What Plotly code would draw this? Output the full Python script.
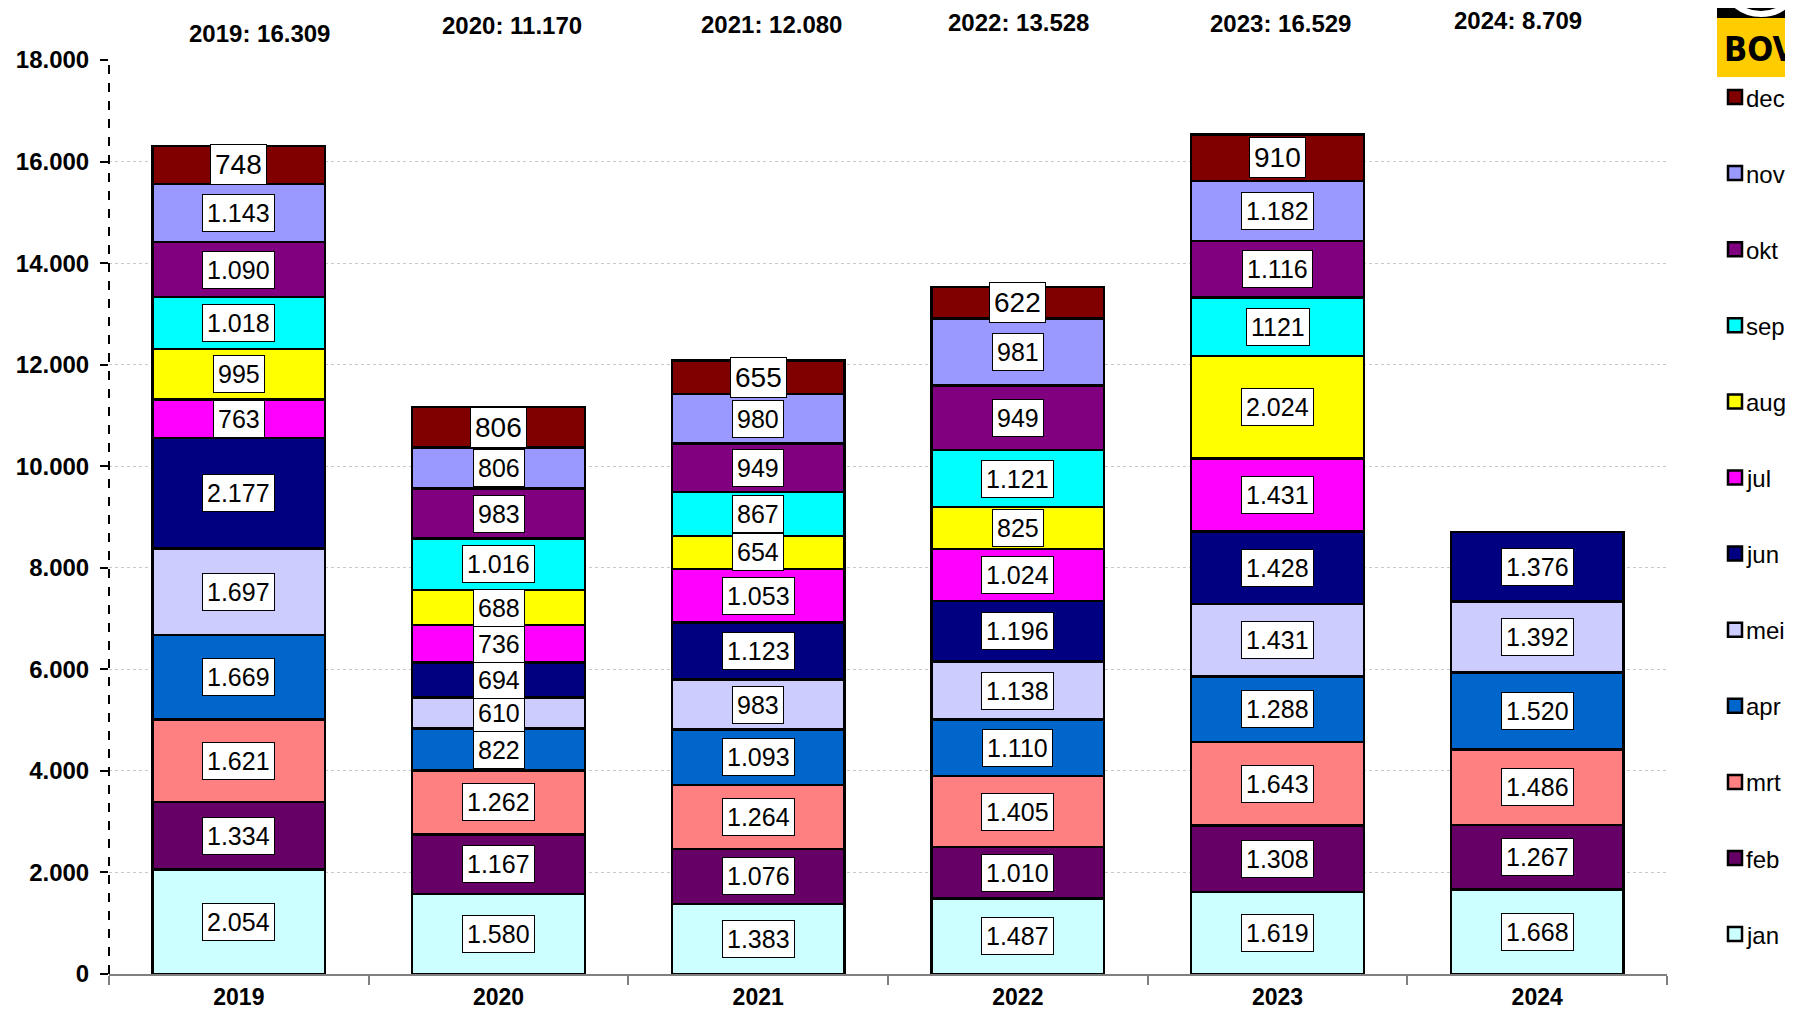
import plotly.graph_objects as go

years = ["2019", "2020", "2021", "2022", "2023", "2024"]
months = ["jan", "feb", "mrt", "apr", "mei", "jun", "jul", "aug", "sep", "okt", "nov", "dec"]

jan = [2054, 1580, 1383, 1487, 1619, 1668]
feb = [1334, 1167, 1076, 1010, 1308, 1267]
mrt = [1621, 1262, 1264, 1405, 1643, 1486]
apr = [1669, 822, 1093, 1110, 1288, 1520]
mei = [1697, 610, 983, 1138, 1431, 1392]
jun = [2177, 694, 1123, 1196, 1428, 1376]
jul = [763, 736, 1053, 1024, 1431, None]
aug = [995, 688, 654, 825, 2024, None]
sep = [1018, 1016, 867, 1121, 1149, None]
okt = [1090, 983, 949, 1272, 1116, None]
nov = [1143, 806, 980, 1318, 1182, None]
dec = [748, 806, 655, 622, 910, None]

# labels as printed in the chart where they differ from the bar heights
printed_labels = {("okt", "2022"): "949", ("nov", "2022"): "981", ("sep", "2023"): "1121"}

series = [jan, feb, mrt, apr, mei, jun, jul, aug, sep, okt, nov, dec]
colors = ["#CCFFFF", "#660066", "#FF8080", "#0066CC", "#CCCCFF", "#000080",
          "#FF00FF", "#FFFF00", "#00FFFF", "#800080", "#9999FF", "#800000"]


def nl(v):
    return f"{v:,}".replace(",", ".")


OFF = 8  # page body margin
W, H = 1777, 997
ML, MR, MT, MB = 101, 118, 52, 31
PW = W - ML - MR
PH = H - MT - MB


def px_x(p):
    return (p - OFF - ML) / PW


def px_y(p):
    return (H - MB - (p - OFF)) / PH


fig = go.Figure()
for name, vals, col in zip(months, series, colors):
    fig.add_trace(go.Bar(
        x=years, y=vals, name=name, showlegend=False,
        marker=dict(color=col, line=dict(color="black", width=2.5)),
    ))

annotations = []
shapes = []
base = [0] * len(years)
for name, vals in zip(months, series):
    for i, (yr, v) in enumerate(zip(years, vals)):
        if v is None:
            continue
        txt = printed_labels.get((name, yr), nl(v))
        annotations.append(dict(
            x=i, y=base[i] + v / 2, xref="x", yref="y", text=txt, showarrow=False,
            font=dict(family="Arial, Liberation Sans", size=28 if name == "dec" else 25, color="black"),
            bgcolor="white", bordercolor="black", borderwidth=1, borderpad=4,
        ))
        base[i] += v

# totals on top
total_pos = [(259, 33), (512, 26), (771, 25), (1018, 23), (1280, 24), (1518, 21)]
for yr, tot, (cx, cy) in zip(years, base, total_pos):
    annotations.append(dict(
        x=px_x(cx), y=px_y(cy), xref="paper", yref="paper", text=f"{yr}: {nl(tot)}",
        showarrow=False, xanchor="center", yanchor="middle",
        font=dict(family="Arial, Liberation Sans", size=24, color="black", weight="bold"),
    ))

# legend (dec on top, jan at bottom)
LEG_TOP, LEG_STEP = 97, 76.1
for idx, (name, col) in enumerate(zip(months[::-1], colors[::-1])):
    cy = LEG_TOP + idx * LEG_STEP
    shapes.append(dict(
        type="rect", xref="paper", yref="paper",
        x0=px_x(1728), x1=px_x(1742), y0=px_y(cy + 7), y1=px_y(cy - 7),
        fillcolor=col, line=dict(color="black", width=2.5),
    ))
    annotations.append(dict(
        x=px_x(1744), y=px_y(cy + 1), xref="paper", yref="paper", text=name, showarrow=False,
        xanchor="left", yanchor="middle",
        font=dict(family="Arial, Liberation Sans", size=24, color="black"),
    ))

# logo text
annotations.append(dict(
    x=px_x(1722), y=px_y(49), xref="paper", yref="paper", text="BOVAG", showarrow=False,
    xanchor="left", yanchor="middle",
    font=dict(family="Liberation Sans Narrow, DejaVu Sans Condensed", size=34, color="black", weight="bold"),
))

shapes += [
    # dashed y axis line
    dict(type="line", xref="paper", yref="paper", x0=0, x1=0, y0=0, y1=1,
         line=dict(color="black", width=2, dash="dash")),
    # logo
    dict(type="rect", xref="paper", yref="paper", x0=px_x(1717), x1=px_x(1800),
         y0=px_y(0), y1=px_y(18), fillcolor="black", line=dict(width=0)),
    dict(type="circle", xref="paper", yref="paper", x0=px_x(1722), x1=px_x(1800),
         y0=px_y(-62), y1=px_y(14), line=dict(color="white", width=6)),
    dict(type="rect", xref="paper", yref="paper", x0=px_x(1717), x1=px_x(1800),
         y0=px_y(18), y1=px_y(77), fillcolor="#FFCC00", line=dict(width=0)),
]

fig.update_layout(
    width=W, height=H,
    margin=dict(l=ML, r=MR, t=MT, b=MB, autoexpand=False),
    paper_bgcolor="white", plot_bgcolor="white",
    barmode="stack", bargap=0.335,
    separators=",.",
    font=dict(family="Arial, Liberation Sans", color="black"),
    showlegend=False,
    annotations=annotations,
    shapes=shapes,
    xaxis=dict(
        type="category", categoryorder="array", categoryarray=years,
        range=[-0.5, 5.5], showline=True, linecolor="#808080", linewidth=1.5,
        ticks="outside", tickson="boundaries", ticklen=9, tickcolor="#808080", tickwidth=1.5,
        ticklabelstandoff=2,
        tickfont=dict(family="Arial, Liberation Sans", size=23, color="black", weight="bold"),
        showgrid=False, zeroline=False, fixedrange=True,
    ),
    yaxis=dict(
        range=[0, 18000], tickvals=list(range(0, 18001, 2000)), tickformat=",d",
        showgrid=True, gridcolor="#C8C8C8", griddash="dot", gridwidth=1,
        showline=False, zeroline=False,
        ticks="outside", ticklen=8, tickcolor="black", tickwidth=2,
        ticklabelstandoff=6,
        tickfont=dict(family="Arial, Liberation Sans", size=24, color="black", weight="bold"),
    ),
)

fig.write_html("out.html")
